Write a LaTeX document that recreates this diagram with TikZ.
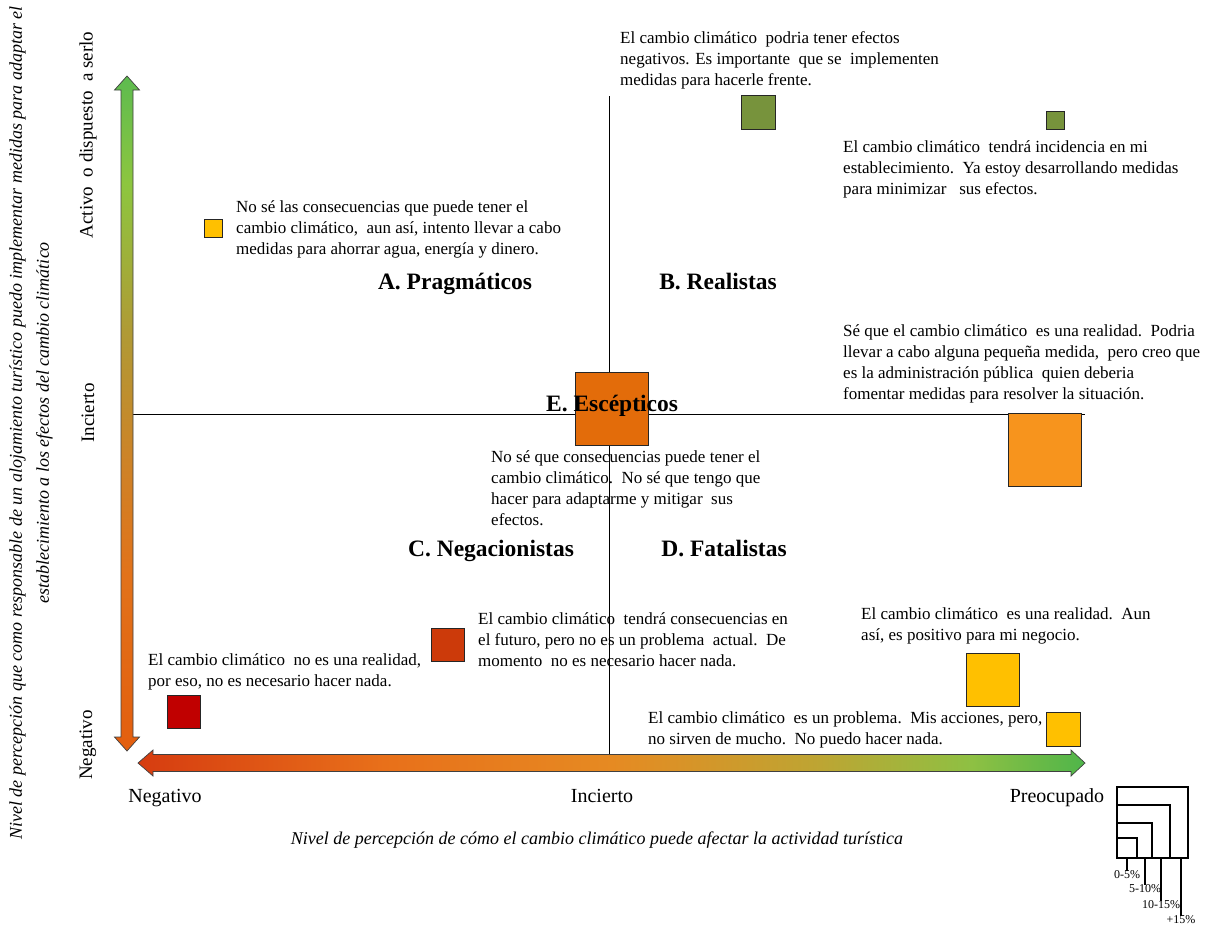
\documentclass[tikz,border=0pt]{standalone}
\usepackage{fontspec}
\setmainfont{Liberation Serif}
\usetikzlibrary{positioning}

% square fills
\definecolor{olivegreen}{HTML}{77933C}
\definecolor{goldyellow}{HTML}{FFC000}
\definecolor{burntorange}{HTML}{E36C0A}
\definecolor{lightorange}{HTML}{F7941D}
\definecolor{brickred}{HTML}{CC3A0A}
\definecolor{darkred}{HTML}{C00000}
\definecolor{arrowedge}{HTML}{404040}

% axis gradients
\definecolor{gA}{HTML}{5DBB4F}
\definecolor{gB}{HTML}{8DC63F}
\definecolor{gC}{HTML}{B09A35}
\definecolor{gM}{HTML}{CC8428}
\definecolor{gD}{HTML}{E2721A}
\definecolor{gE}{HTML}{E35E0E}
\definecolor{hA}{HTML}{D63C10}
\definecolor{hB}{HTML}{E8701A}
\definecolor{hC}{HTML}{E68A22}
\definecolor{hD}{HTML}{BDA533}
\definecolor{hE}{HTML}{8EC043}
\definecolor{hF}{HTML}{4FB54A}

\pgfdeclareverticalshading{yaxisshade}{100bp}{%
  color(0bp)=(gE); color(25bp)=(gE); color(38bp)=(gD); color(47bp)=(gM);
  color(56bp)=(gC); color(67bp)=(gB); color(75bp)=(gA); color(100bp)=(gA)}
\pgfdeclarehorizontalshading{xaxisshade}{100bp}{%
  color(0bp)=(hA); color(25bp)=(hA); color(38bp)=(hB); color(50bp)=(hC);
  color(61bp)=(hD); color(69bp)=(hE); color(75bp)=(hF); color(100bp)=(hF)}

\newcommand{\twosp}{\hspace{0.5em}}
\newcommand{\threesp}{\hspace{0.75em}}

\begin{document}
\begin{tikzpicture}[x=1pt,y=-1pt,
    sq/.style={draw=black!85, line width=0.9pt, inner sep=0pt, minimum size=#1},
    legsq/.style={draw=black, line width=2pt, inner sep=0pt, minimum size=#1, anchor=south west},
    body/.style={font=\fontsize{17}{21}\selectfont, align=left, anchor=north west, inner sep=0pt},
    group/.style={font=\fontsize{23.5}{28}\selectfont\bfseries, inner sep=0pt, anchor=base},
    tick/.style={font=\fontsize{20}{24}\selectfont, inner sep=0pt, anchor=base},
    ytick/.style={font=\fontsize{19}{23}\selectfont, inner sep=0pt, rotate=90},
    title/.style={font=\fontsize{18}{27}\selectfont\itshape, inner sep=0pt, align=center},
    legtick/.style={font=\fontsize{12}{14}\selectfont, inner sep=0pt},
    quad/.style={draw=black, line width=0.9pt}]
\useasboundingbox (0,0) rectangle (1206,927);

% quadrant dividers
\coordinate (qtop) at (609,96);
\coordinate (qbot) at (609,754);
\coordinate (qleft) at (133,414);
\coordinate (qright) at (1085,414);
\draw[quad] (qtop) -- (qbot);
\draw[quad] (qleft) -- (qright);

% vertical axis: double block arrow, green (top) to orange (bottom)
\path[shading=yaxisshade, draw=arrowedge, line width=0.7pt]
  (121,90) -- (114.5,90) -- (127,76) -- (139.5,90) -- (133,90) --
  (133,737) -- (139.5,737) -- (127,751) -- (114.5,737) -- (121,737) -- cycle;

% horizontal axis: double block arrow, red (left) to green (right)
\path[shading=xaxisshade, draw=arrowedge, line width=0.7pt]
  (153,754.5) -- (153,750) -- (138,763) -- (153,776) -- (153,771.5) --
  (1071,771.5) -- (1071,776) -- (1085,763) -- (1071,750) -- (1071,754.5) -- cycle;

% category squares
\node[sq=18, fill=goldyellow] (sqA) at (213,228) {};
\node[sq=34, fill=olivegreen] (sqB1) at (758,112) {};
\node[sq=18, fill=olivegreen] (sqB2) at (1055,120) {};
\node[sq=73, fill=burntorange] (sqE) at (611.5,409) {};
\node[sq=73, fill=lightorange] (sqR) at (1044.5,449.5) {};
\node[sq=33, fill=brickred] (sqC) at (447.5,645) {};
\node[sq=33, fill=darkred] (sqN) at (184,711.5) {};
\node[sq=53, fill=goldyellow] (sqD1) at (992.5,679.5) {};
\node[sq=34, fill=goldyellow] (sqD2) at (1063,729.5) {};

% group labels
\node[group] (gA) at (455,289) {A. Pragmáticos};
\node[group] (gB) at (718,289) {B. Realistas};
\node[group] (gE) at (612,411) {E. Escépticos};
\node[group] (gC) at (491,556) {C. Negacionistas};
\node[group] (gD) at (724,556) {D. Fatalistas};

% statements
\node[body] (tB1) at (620,31) {El cambio climático\twosp podria tener efectos\\negativos. Es importante\twosp que se\twosp implementen\\medidas para hacerle frente.};
\node[body] (tB2) at (843,140) {El cambio climático\twosp tendrá incidencia en mi\\establecimiento.\twosp Ya estoy desarrollando medidas\\para minimizar\threesp sus efectos.};
\node[body] (tA) at (236,200) {No sé las consecuencias que puede tener el\\cambio climático,\twosp aun así, intento llevar a cabo\\medidas para ahorrar agua, energía y dinero.};
\node[body] (tR) at (843,324) {Sé que el cambio climático\twosp es una realidad.\twosp Podria\\llevar a cabo alguna pequeña medida,\twosp pero creo que\\es la administración pública\twosp quien deberia\\fomentar medidas para resolver la situación.};
\node[body] (tE) at (491,450) {No sé que consecuencias puede tener el\\cambio climático.\twosp No sé que tengo que\\hacer para adaptarme y mitigar\twosp sus\\efectos.};
\node[body] (tC) at (478,612) {El cambio climático\twosp tendrá consecuencias en\\el futuro, pero no es un problema\twosp actual.\twosp De\\momento\twosp no es necesario hacer nada.};
\node[body] (tN) at (148,653) {El cambio climático\twosp no es una realidad,\\por eso, no es necesario hacer nada.};
\node[body] (tD1) at (861,607) {El cambio climático\twosp es una realidad.\twosp Aun\\así, es positivo para mi negocio.};
\node[body] (tD2) at (648,711) {El cambio climático\twosp es un problema.\twosp Mis acciones, pero,\\no sirven de mucho.\twosp No puedo hacer nada.};

% axis values
\node[tick] (xneg) at (165,802) {Negativo};
\node[tick] (xinc) at (602,802) {Incierto};
\node[tick] (xpre) at (1057,802) {Preocupado};
\node[ytick] (yneg) at (88,745) {Negativo};
\node[ytick] (yinc) at (88,413) {Incierto};
\node[ytick] (yact) at (88,135) {Activo\twosp o dispuesto\twosp a serlo};

% axis titles
\node[title] (xtitle) at (597,840) {Nivel de percepción de cómo el cambio climático puede afectar la actividad turística};
\node[title, rotate=90] (ytitle) at (31,423) {Nivel de percepción que como responsable de un alojamiento turístico puedo implementar medidas para adaptar el\\establecimiento a los efectos del cambio climático};

% size key
\node[legsq=71] (k4) at (1116,859) {};
\node[legsq=53] (k3) at (1116,859) {};
\node[legsq=35] (k2) at (1116,859) {};
\node[legsq=20] (k1) at (1116,859) {};
\node[legtick] (l1) at (1127,875) {0-5\%};
\node[legtick] (l2) at (1145,889) {5-10\%};
\node[legtick] (l3) at (1161,905) {10-15\%};
\node[legtick] (l4) at (1181,920) {+15\%};
\draw[line width=1.2pt] (k1.south east -| l1.north) -- (l1.north);
\draw[line width=1.2pt] (k2.south east -| l2.north) -- (l2.north);
\draw[line width=1.2pt] (k3.south east -| l3.north) -- (l3.north);
\draw[line width=1.2pt] (k4.south east -| l4.north) -- (l4.north);
\end{tikzpicture}
\end{document}
